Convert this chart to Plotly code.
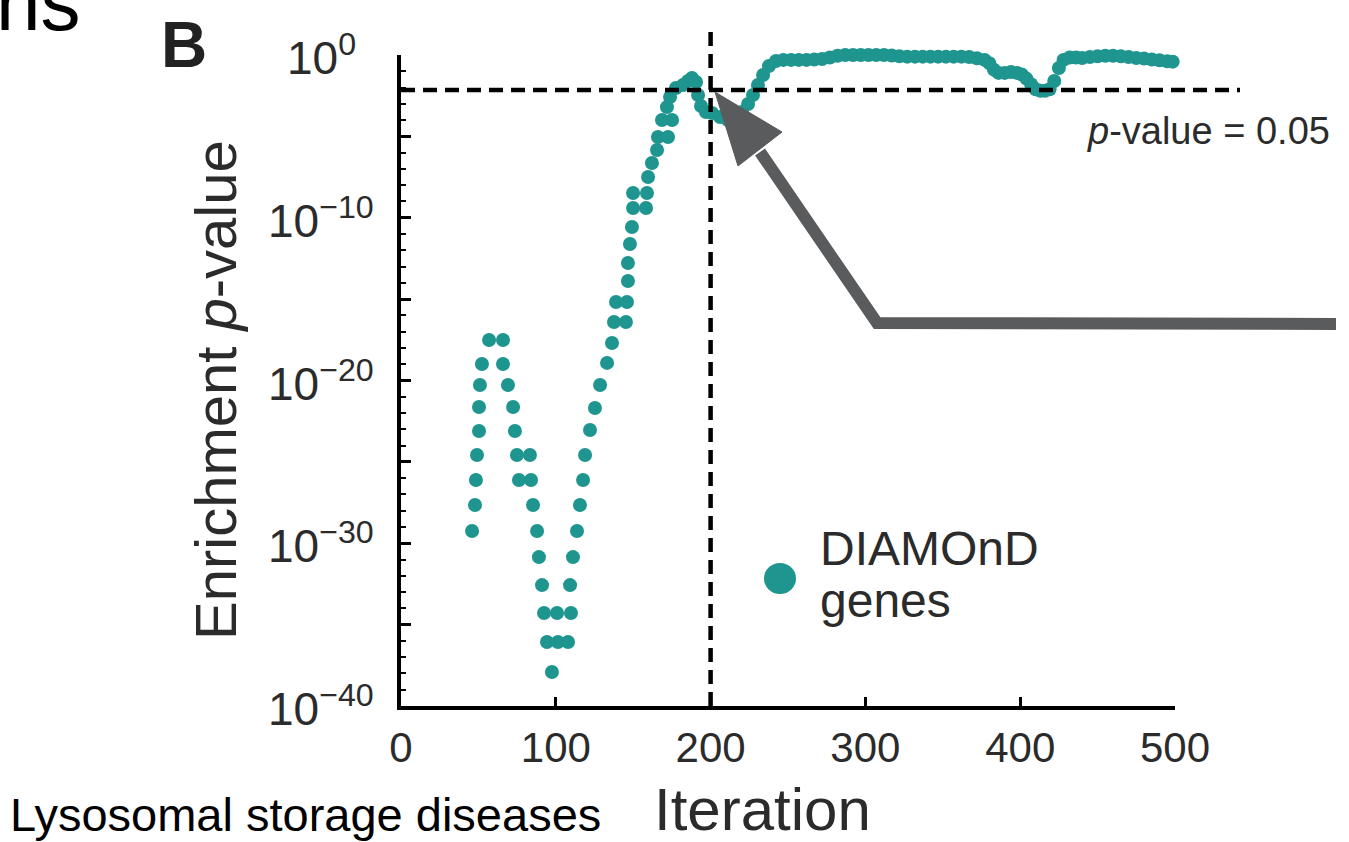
import plotly.graph_objects as go

# ---------------- data ----------------
# iteration of each DIAMOnD point
DOT_ITER = [
    45.9, 47.8, 48.4, 49.1, 50.4, 50.4, 51.0, 52.3, 56.9, 65.9,
    65.9, 69.1, 72.4, 73.6, 74.9, 83.3, 76.2, 84.0, 85.3, 87.9,
    89.1, 91.1, 92.4, 100.8, 109.8, 94.3, 101.4, 107.9, 97.5,
    109.2, 111.1, 113.7, 115.6, 117.6, 118.9, 122.1, 125.3, 128.6, 133.1,
    136.3, 137.6, 145.3, 138.9, 146.0, 146.6, 146.6, 147.9, 149.2, 149.9,
    158.3, 149.9, 158.9, 159.6, 162.1, 165.4, 166.0, 172.5, 168.6, 175.1,
    171.8, 173.8, 177.6, 182.2, 185.4, 188.0, 190.6, 191.9, 193.8, 197.0,
    200.9, 206.1, 211.2, 216.4, 220.3, 224.2, 227.4, 230.6, 233.9, 237.7,
    242.2, 247.0, 252.0, 257.0, 262.0, 267.0, 272.0, 277.0, 282.0, 287.0,
    292.0, 297.0, 302.0, 307.0, 312.0, 317.0, 322.0, 327.0, 332.0, 337.0,
    342.0, 347.0, 352.0, 357.0, 362.0, 367.0, 372.0, 377.0, 380.0, 383.0,
    386.0, 390.0, 394.0, 398.0, 401.0, 404.0, 407.0, 410.0, 413.0, 416.0,
    419.0, 422.0, 425.0, 428.0, 432.0, 436.0, 440.0, 445.0, 450.0, 455.0,
    460.0, 465.0, 470.0, 475.0, 480.0, 485.0, 490.0, 495.0, 498.5,
]
# log10 of the enrichment p-value of each point
DOT_LOG10P = [
    -29.25, -27.65, -26.11, -24.58, -23.10, -21.63, -20.28, -18.99, -17.51, -17.51,
    -18.99, -20.28, -21.63, -23.10, -24.58, -24.58, -26.11, -26.11, -27.65, -29.25,
    -30.85, -32.57, -34.29, -34.29, -34.29, -36.07, -36.07, -36.07, -37.91,
    -32.57, -30.85, -29.25, -27.65, -26.11, -24.58, -23.04, -21.69, -20.28, -18.92,
    -17.70, -16.41, -16.41, -15.18, -15.18, -13.89, -12.78, -11.61, -10.57, -9.40,
    -9.40, -8.48, -8.48, -7.50, -6.64, -5.84, -5.04, -5.04, -3.99, -3.99,
    -3.20, -2.58, -2.03, -1.84, -1.60, -1.41, -1.66, -2.46, -3.13, -3.50,
    -3.56, -3.81, -3.99, -3.81, -3.50, -3.01, -2.46, -1.84, -1.23, -0.68,
    -0.37, -0.30, -0.30, -0.30, -0.30, -0.28, -0.25, -0.15, -0.05, 0.0,
    0.0, 0.0, 0.0, 0.0, 0.0, -0.03, -0.08, -0.10, -0.10, -0.10,
    -0.10, -0.10, -0.10, -0.10, -0.10, -0.12, -0.20, -0.30, -0.50, -0.90,
    -1.10, -1.10, -1.05, -1.10, -1.20, -1.45, -1.80, -2.10, -2.20, -2.20,
    -2.10, -1.60, -0.80, -0.30, -0.15, -0.15, -0.18, -0.12, -0.08, -0.05,
    -0.05, -0.08, -0.12, -0.18, -0.22, -0.28, -0.32, -0.38, -0.41,
]
P_VALUES = [10 ** v for v in DOT_LOG10P]

X_TICKS = [0, 100, 200, 300, 400, 500]
Y_MAJOR_EXP = [0, -5, -10, -15, -20, -25, -30, -35, -40]
Y_LABEL_EXP = [0, -10, -20, -30, -40]
Y_LABEL_TEXT = ["10<sup>0</sup>", "10<sup>\u221210</sup>", "10<sup>\u221220</sup>",
                "10<sup>\u221230</sup>", "10<sup>\u221240</sup>"]
THRESH_ITER = 200
THRESH_P_DRAWN = 0.007   # where the "p-value = 0.05" line sits on the printed axis

# ---------------- layout helpers ----------------
W, H = 1349, 842
L, R, T, B = 401, 174, 55, 136
PW, PH = W - L - R, H - T - B


def pxx(px):
    return (px - L) / PW


def pxy(py):
    return (H - B - py) / PH


TEAL = "#1f958f"
GREY = "#5a5b5d"
TXT = "#2b2b2b"
FONT = "Liberation Sans, Arial, Helvetica, sans-serif"

fig = go.Figure()
fig.add_trace(go.Scatter(
    x=DOT_ITER, y=P_VALUES, mode="markers",
    marker=dict(color=TEAL, size=14, line=dict(width=0)),
    cliponaxis=False, showlegend=False, hoverinfo="skip",
))

minor_vals = [10 ** (-k) for k in range(1, 40) if k % 5 != 0]

fig.update_layout(
    width=W, height=H,
    margin=dict(l=L, r=R, t=T, b=B, pad=0),
    paper_bgcolor="white", plot_bgcolor="white",
    font=dict(family=FONT, color=TXT),
    xaxis=dict(
        range=[0, 500], showgrid=False, zeroline=False,
        showline=True, linewidth=4, linecolor="black",
        tickmode="array", tickvals=X_TICKS,
        ticks="inside", ticklen=9, tickwidth=3, tickcolor="black",
        tickfont=dict(size=42, color=TXT), ticklabelstandoff=2,
    ),
    yaxis=dict(
        type="log", range=[-40, 0], showgrid=False, zeroline=False,
        showline=True, linewidth=4, linecolor="black",
        tickmode="array", tickvals=[10 ** e for e in Y_MAJOR_EXP],
        ticktext=[""] * len(Y_MAJOR_EXP),
        ticks="inside", ticklen=10, tickwidth=3, tickcolor="black",
        minor=dict(tickmode="array", tickvals=minor_vals, ticks="inside",
                   ticklen=5, tickwidth=2, tickcolor="black", showgrid=False),
    ),
)

shapes = []
DASH = dict(color="black", width=4.5, dash="14px,8px")
# threshold lines
shapes.append(dict(type="line", xref="x", yref="paper", x0=THRESH_ITER, x1=THRESH_ITER,
                   y0=0, y1=pxy(30), line=DASH))
shapes.append(dict(type="line", xref="paper", yref="y", x0=0, x1=pxx(1240),
                   y0=THRESH_P_DRAWN, y1=THRESH_P_DRAWN, line=DASH))
# grey arrow
shaft = [(1336, 324), (877, 323), (760, 152)]
path = "M " + " L ".join(f"{pxx(a):.5f},{pxy(b):.5f}" for a, b in shaft)
shapes.append(dict(type="path", xref="paper", yref="paper", path=path,
                   line=dict(color=GREY, width=12)))
head = [(715, 92), (782, 132), (738, 166)]
hpath = "M " + " L ".join(f"{pxx(a):.5f},{pxy(b):.5f}" for a, b in head) + " Z"
shapes.append(dict(type="path", xref="paper", yref="paper", path=hpath,
                   fillcolor=GREY, line=dict(color=GREY, width=1)))
# legend dot
shapes.append(dict(type="circle", xref="paper", yref="paper",
                   x0=pxx(764), x1=pxx(796), y0=pxy(594), y1=pxy(563),
                   fillcolor=TEAL, line=dict(width=0)))
fig.update_layout(shapes=shapes)

ann = [
    dict(text="ns", x=pxx(-6), y=pxy(3), xanchor="left", yanchor="middle",
         font=dict(size=80, color="black")),
    dict(text="<b>B</b>", x=pxx(184), y=pxy(45), xanchor="center", yanchor="middle",
         font=dict(size=64, color="#222222")),
    dict(text="Enrichment <i>p</i>-value", x=pxx(216), y=pxy(390), textangle=-90,
         xanchor="center", yanchor="middle", font=dict(size=58, color=TXT)),
    dict(text="Iteration", x=pxx(762), y=pxy(809), xanchor="center", yanchor="middle",
         font=dict(size=60, color=TXT)),
    dict(text="Lysosomal storage diseases", x=pxx(8), y=pxy(814), xanchor="left",
         yanchor="middle", font=dict(size=47, color="black")),
    dict(text="<i>p</i>-value = 0.05", x=pxx(1332), y=pxy(131), xanchor="right",
         yanchor="middle", font=dict(size=38, color=TXT)),
    dict(text="DIAMOnD", x=pxx(818), y=pxy(548), xanchor="left", yanchor="middle",
         font=dict(size=48, color=TXT)),
    dict(text="genes", x=pxx(818), y=pxy(600), xanchor="left", yanchor="middle",
         font=dict(size=48, color=TXT)),
]
for a in ann:
    a.update(xref="paper", yref="paper", showarrow=False)
# y tick labels, centred as in the reference
for e, t in zip(Y_LABEL_EXP, Y_LABEL_TEXT):
    ann.append(dict(text=t, xref="paper", yref="y", x=pxx(321), y=e,
                    xanchor="center", yanchor="middle", showarrow=False,
                    font=dict(size=46, color=TXT)))
fig.update_layout(annotations=ann)

fig.write_html("out.html")
